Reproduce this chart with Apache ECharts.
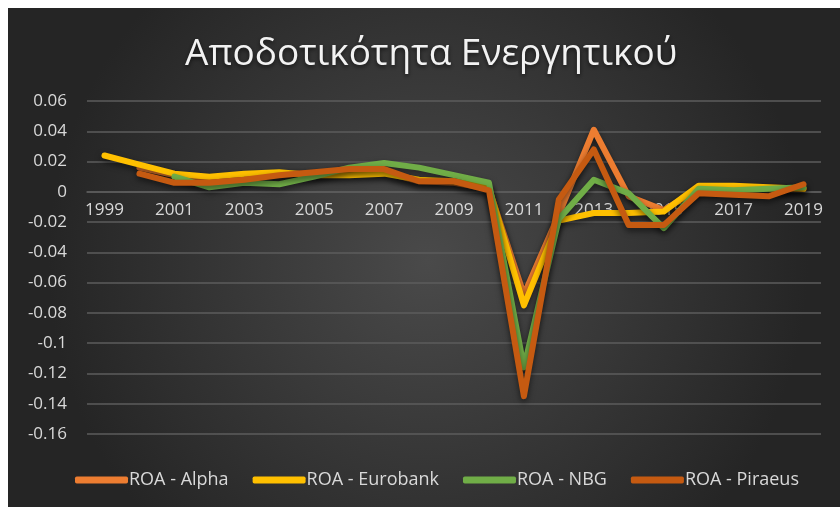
<!DOCTYPE html>
<html><head><meta charset="utf-8">
<script src="https://cdn.jsdelivr.net/npm/echarts@6/dist/echarts.min.js"></script>
<style>html,body{margin:0;padding:0;background:#fff;}#c{width:840px;height:507px;}</style>
</head><body><div id="c"></div>
<script>
const years = ['1999','2000','2001','2002','2003','2004','2005','2006','2007','2008','2009','2010','2011','2012','2013','2014','2015','2016','2017','2018','2019'];
const seriesNames = ['ROA - Alpha','ROA - Eurobank','ROA - NBG','ROA - Piraeus'];
const alpha    = [null, 0.016, 0.011, 0.009, 0.010, 0.012, 0.012, 0.013, 0.013, 0.007, 0.006, 0.002, -0.068, -0.015, 0.041, -0.003, -0.012, 0.002, 0.002, 0.002, 0.002];
const eurobank = [0.024, 0.018, 0.012, 0.010, 0.012, 0.013, 0.011, 0.011, 0.012, 0.008, 0.007, 0.003, -0.075, -0.019, -0.014, -0.014, -0.013, 0.004, 0.004, 0.003, 0.002];
const nbg      = [null, null, 0.010, 0.003, 0.006, 0.005, 0.010, 0.016, 0.019, 0.016, 0.011, 0.006, -0.116, -0.018, 0.008, -0.001, -0.024, 0.002, 0.001, 0.002, 0.003];
const piraeus  = [null, 0.012, 0.006, 0.006, 0.008, 0.011, 0.013, 0.015, 0.015, 0.007, 0.007, 0.001, -0.135, -0.005, 0.028, -0.022, -0.022, -0.001, -0.002, -0.003, 0.005];
const colors = ['#ED7D31','#FFC000','#70AD47','#C55A11'];
const allData = [alpha, eurobank, nbg, piraeus];
const yMin = -0.16, yMax = 0.06, yStep = 0.02;

const W = 840, H = 507;
const grid = {left: 87, right: 19, top: 101, bottom: 73};
const plotH = H - grid.top - grid.bottom;
// raise the category axis to the value 0 line
const xOffset = -plotH * (0 - yMin) / (yMax - yMin);

const chart = echarts.init(document.getElementById('c'), null, {renderer:'canvas'});
const FONT = 'Open Sans';
chart.setOption({
  backgroundColor: '#ffffff',
  animation: false,
  graphic: [{
    type: 'rect', z: -10, silent: true,
    shape: {x: 8, y: 8, width: W, height: H},
    style: {fill: new echarts.graphic.RadialGradient(0.5, 0.5, 0.75, [
      {offset: 0, color: '#4a4a4a'}, {offset: 1, color: '#252525'}])}
  }],
  title: {
    text: 'Αποδοτικότητα Ενεργητικού',
    left: 180, top: 31,
    textStyle: {color: '#f2f2f2', fontFamily: FONT, fontSize: 37, fontWeight: 'normal',
      textShadowColor: 'rgba(0,0,0,0.6)', textShadowBlur: 4, textShadowOffsetY: 2}
  },
  legend: {
    data: seriesNames, bottom: 13, left: 70, itemGap: 24,
    itemWidth: 53, itemHeight: 7, icon: 'roundRect',
    textStyle: {color: '#d9d9d9', fontFamily: FONT, fontSize: 18, padding: [0,0,0,-4]}
  },
  grid: grid,
  xAxis: {
    type: 'category', data: years, boundaryGap: true, offset: xOffset, z: 0,
    axisLine: {onZero: false, lineStyle: {color: '#5c5c5c', width: 1.5}},
    axisTick: {show: false},
    axisLabel: {interval: 1, color: '#d9d9d9', fontFamily: FONT, fontSize: 17, margin: 10}
  },
  yAxis: {
    type: 'value', min: yMin, max: yMax, interval: yStep,
    axisLine: {show: false}, axisTick: {show: false},
    axisLabel: {color: '#d9d9d9', fontFamily: FONT, fontSize: 17, margin: 20,
      formatter: v => String(Math.round(v*100)/100)},
    splitLine: {lineStyle: {color: '#5c5c5c', width: 1.5}}
  },
  series: allData.map((d, i) => ({
    name: seriesNames[i], type: 'line', data: d, showSymbol: false, symbol: 'none',
    color: colors[i], connectNulls: false, zlevel: 1,
    lineStyle: {width: 6, color: colors[i], cap: 'round', join: 'round',
      shadowColor: 'rgba(0,0,0,0.55)', shadowBlur: 6, shadowOffsetY: 3}
  }))
});
</script></body></html>
